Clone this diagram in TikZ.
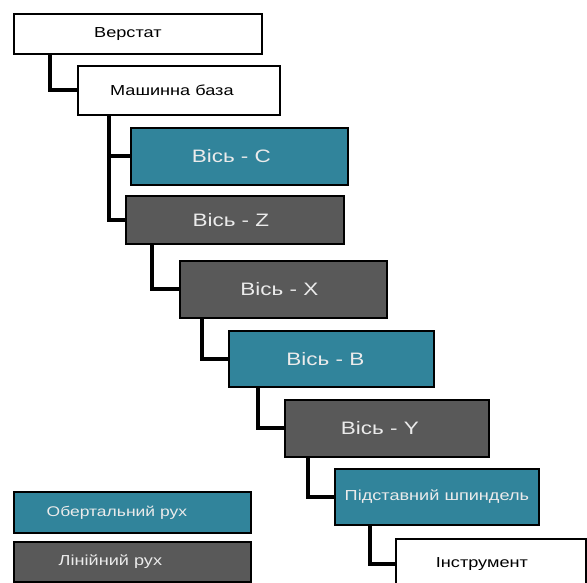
\documentclass[tikz,border=0pt]{standalone}
\usepackage{fontspec}
\setsansfont{Liberation Sans}[FakeStretch=1.25]
\definecolor{rotteal}{HTML}{31849B}
\definecolor{lingray}{HTML}{595959}
\newcommand{\lft}[1]{\kern#1pt}
\begin{document}
\begin{tikzpicture}[x=1pt, y=-1pt, font=\sffamily\fontsize{14.5}{16}\selectfont,
    unit/.style={draw=black, line width=1.8pt, inner sep=0pt, anchor=north west},
    plainbox/.style={unit, fill=white, text=black},
    rotbox/.style={unit, fill=rotteal, text=white!92!black},
    linbox/.style={unit, fill=lingray, text=white!92!black},
    axis/.style={font=\sffamily\fontsize{18}{20}\selectfont},
    link/.style={line width=4pt}]
  \useasboundingbox (0,0) rectangle (587,583);
  \node[plainbox, minimum width=248pt, minimum height=40pt] (verstat) at (13,13) {Верстат\lft{20}};
  \node[plainbox, minimum width=202pt, minimum height=49pt] (baza) at (77,65) {Машинна база\lft{14}};
  \node[rotbox, axis, minimum width=217pt, minimum height=57pt] (osC) at (130,127) {Вісь - C\lft{16}};
  \node[linbox, axis, minimum width=218pt, minimum height=48pt] (osZ) at (125,195) {Вісь - Z\lft{8}};
  \node[linbox, axis, minimum width=207pt, minimum height=57pt] (osX) at (179,260) {Вісь - X\lft{8}};
  \node[rotbox, axis, minimum width=205pt, minimum height=56pt] (osB) at (228,330) {Вісь - B\lft{12}};
  \node[linbox, axis, minimum width=204pt, minimum height=57pt] (osY) at (284,399) {Вісь - Y\lft{14}};
  \node[rotbox, minimum width=204pt, minimum height=56pt] (spindle) at (334,468) {Підставний шпиндель};
  \node[plainbox, minimum width=190pt, minimum height=50pt] (tool) at (395,538) {Інструмент\lft{18}};
  % legend
  \node[rotbox, font=\sffamily\fontsize{14}{16}\selectfont, minimum width=237pt, minimum height=41pt] (legrot) at (13,491) {Обертальний рух\lft{31}};
  \node[linbox, font=\sffamily\fontsize{14.5}{16}\selectfont, minimum width=237pt, minimum height=40pt] (leglin) at (13,541) {Лінійний рух\lft{44}};
  \foreach \a/\b/\d in {verstat/baza/37, baza/osC/32, baza/osZ/32, osZ/osX/27, osX/osB/23, osB/osY/30, osY/spindle/24, spindle/tool/36}
    {\draw[link] ([xshift=\d pt]\a.south west) |- (\b.west);}
\end{tikzpicture}
\end{document}
